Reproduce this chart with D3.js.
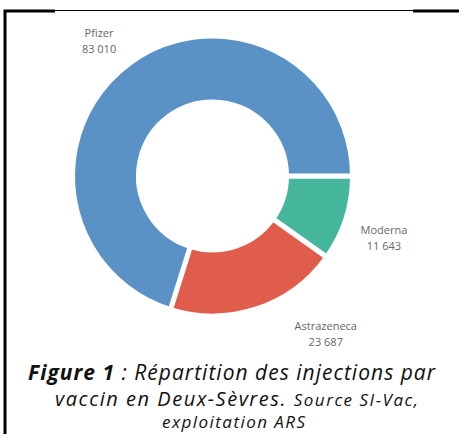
<!DOCTYPE html>
<html>
<head>
<meta charset="utf-8">
<script src="https://cdn.jsdelivr.net/npm/d3@7"></script>
<style>
  body { margin: 0; background: #fff; }
  svg { display: block; }
</style>
</head>
<body>
<div id="chart"></div>
<script>
// données
const vaccins = ["Moderna", "Astrazeneca", "Pfizer"];
const injections = [11643, 23687, 83010];
const couleurs = ["#45b59c", "#e05c4b", "#5a92c6"];

const W = 459, H = 434;
const cx = 212.5, cy = 176, rOut = 140, rIn = 74;

const svg = d3.select("#chart").append("svg")
  .attr("width", W).attr("height", H);

// cadre
svg.append("path").attr("d", "M5,434 V11 H55").attr("fill", "none")
  .attr("stroke", "#000").attr("stroke-width", 3);
svg.append("line").attr("x1", 55).attr("x2", 413).attr("y1", 10.5).attr("y2", 10.5)
  .attr("stroke", "#000").attr("stroke-width", 1);
svg.append("line").attr("x1", 413).attr("x2", 459).attr("y1", 11).attr("y2", 11)
  .attr("stroke", "#000").attr("stroke-width", 3);

const data = vaccins.map((v, i) => ({ name: v, value: injections[i], color: couleurs[i] }));

const pie = d3.pie().value(d => d.value).sort(null)
  .startAngle(Math.PI / 2).endAngle(Math.PI / 2 + 2 * Math.PI);
const arc = d3.arc().innerRadius(rIn).outerRadius(rOut);
const labelArc = d3.arc().innerRadius(180).outerRadius(180);

const g = svg.append("g").attr("transform", `translate(${cx},${cy})`);
const arcs = pie(data);

g.selectAll("path.slice").data(arcs).enter().append("path")
  .attr("class", "slice")
  .attr("d", arc)
  .attr("fill", d => d.data.color)
  .attr("stroke", "#fff")
  .attr("stroke-width", 5)
  .attr("stroke-linejoin", "round");

const fmt = v => d3.format(",")(v).replace(/,/g, " ");
const shift = { Moderna: [0, 7], Astrazeneca: [56, -13], Pfizer: [-7, 10] };

const lab = g.selectAll("text.lab").data(arcs).enter().append("text")
  .attr("class", "lab")
  .attr("transform", d => {
    const c = labelArc.centroid(d), s = shift[d.data.name];
    return `translate(${c[0] + s[0]},${c[1] + s[1]})`;
  })
  .attr("text-anchor", "middle")
  .attr("font-family", "Open Sans, sans-serif")
  .attr("font-size", 11)
  .attr("fill", "#666");
lab.append("tspan").attr("x", 0).attr("dy", "-0.35em").text(d => d.data.name);
lab.append("tspan").attr("x", 0).attr("dy", "1.45em").text(d => fmt(d.data.value));

// légende de la figure
function ligne(x0, len, y) {
  return svg.append("text").attr("x", x0).attr("y", y)
    .attr("textLength", len).attr("lengthAdjust", "spacing")
    .attr("font-family", "Open Sans, sans-serif").attr("font-style", "italic")
    .attr("fill", "#111");
}
const l1 = ligne(28, 407, 380).attr("font-size", 21);
l1.append("tspan").attr("font-weight", "bold").text("Figure 1");
l1.append("tspan").text(" : Répartition des injections par");
const l2 = ligne(55, 363, 406);
l2.append("tspan").attr("font-size", 20).text("vaccin en Deux-Sèvres. ");
l2.append("tspan").attr("font-size", 17).text("Source SI-Vac,");
ligne(162, 143, 428).attr("font-size", 17).text("exploitation ARS");
</script>
</body>
</html>
